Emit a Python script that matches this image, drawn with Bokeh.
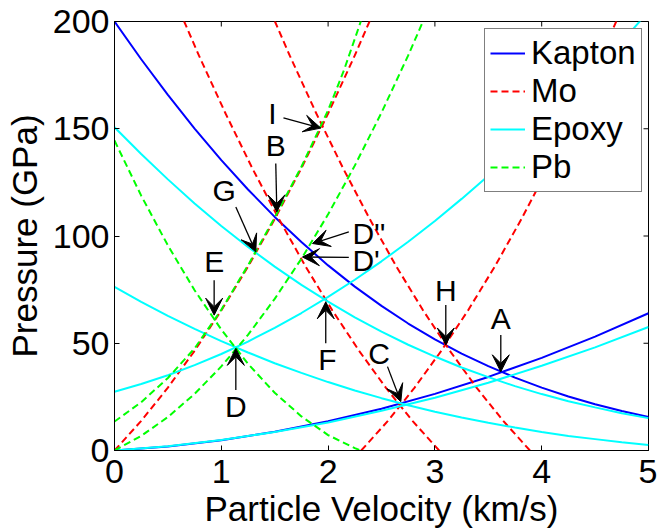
import math
from bokeh.plotting import figure
from bokeh.models import (Range1d, Legend, LegendItem, Arrow,
                          VeeHead, Label, FixedTicker)
from bokeh.embed import file_html
from bokeh.resources import INLINE

# ---------------- data ----------------
u_half = [0, 0.5, 1.0, 1.5, 2.0, 2.5, 3.0, 3.5, 4.0, 4.5, 5.0]
u_quarter = [0, 0.25, 0.5, 0.75, 1.0, 1.25, 1.5, 1.75, 2.0, 2.25, 2.5,
             2.75, 3.0, 3.25, 3.5, 3.75, 4.0, 4.25, 4.5, 4.75, 5.0]

# Kapton
kapton_hug_p = [0, 1.9, 4.8, 8.7, 13.6, 19.5, 26.4, 34.3, 43.2, 53.1, 64.0]
kapton_drive_p = [200, 182.4, 165.8, 150.1, 135.4, 121.7, 108.9, 97.2, 86.3,
                  76.4, 67.4, 59.2, 51.8, 45.2, 39.3, 34.0, 29.3, 25.2, 21.6,
                  18.4, 15.6]

# Mo (four curves share the same pressure samples)
mo_p = [0, 13.8, 29.3, 46.5, 65.3, 85.7, 107.9, 131.6, 157.1, 184.2, 212.9]
mo_hug_u = [0, 0.25, 0.5, 0.75, 1.0, 1.25, 1.5, 1.75, 2.0, 2.25, 2.5]
mo_rel1_u = [3.04, 2.79, 2.54, 2.29, 2.04, 1.79, 1.54, 1.29, 1.04, 0.79, 0.54]
mo_rel2_u = [3.89, 3.64, 3.39, 3.14, 2.89, 2.64, 2.39, 2.14, 1.89, 1.64, 1.39]
mo_shock2_u = [2.31, 2.56, 2.81, 3.06, 3.31, 3.56, 3.81, 4.06, 4.31, 4.56, 4.81]

# Epoxy
epoxy_hug_p = [0, 2.0, 4.9, 8.6, 13.1, 18.5, 24.6, 31.6, 39.5, 48.1, 57.6]
epoxy_a_p = [150.7, 138.2, 126.4, 115.2, 104.7, 94.9, 85.7, 77.2, 69.4, 62.1,
             55.4, 49.3, 43.8, 38.7, 34.2, 30.0, 26.3, 23.0, 20.1, 17.4, 15.1]
epoxy_b_p = [76.3, 69.3, 62.8, 56.7, 51.0, 45.7, 40.7, 36.2, 31.9, 28.0, 24.4,
             21.1, 18.1, 15.4, 12.9, 10.7, 8.6, 6.8, 5.3, 3.8, 2.6]
epoxy_c_p = [27.4, 31.0, 35.1, 39.8, 45.0, 50.8, 57.2, 64.1, 71.6, 79.6, 88.2,
             97.3, 107.0, 117.3, 128.1, 139.5, 151.4, 163.9, 176.9, 190.5, 204.7]

# Pb
pb_hug_u = [0, 0.25, 0.5, 0.75, 1.0, 1.25, 1.5, 1.75, 2.0, 2.25, 2.5, 2.75, 3.0]
pb_hug_p = [0, 6.8, 15.6, 26.4, 39.2, 53.9, 70.7, 89.4, 110.1, 132.8, 157.5,
            184.2, 212.8]
pb_rel_u = [0, 0.25, 0.5, 0.75, 1.0, 1.25, 1.5, 1.75, 2.0, 2.25, 2.306]
pb_rel_p = [144.5, 118.8, 95.6, 74.7, 56.4, 40.4, 26.9, 15.9, 7.2, 1.1, 0]
pb_shock2_u = [0, 0.25, 0.5, 0.75, 1.0, 1.25, 1.5, 1.75, 2.0, 2.15, 2.306, 2.4]
pb_shock2_p = [13.5, 22.5, 33.8, 47.6, 65.6, 86.3, 108.6, 132.3, 158.6, 177.5,
               200.0, 214.0]

# annotations: label, text position, arrow start, arrow tip (data units)
ann_labels = ["A", "B", "C", "D", "D'", "D''", "E", "F", "G", "H", "I"]
ann_text_x = [3.617, 1.51, 2.478, 1.136, 2.228, 2.228, 0.933, 1.994, 1.026, 3.102, 1.479]
ann_text_y = [61.6, 142.2, 45.3, 20.5, 88.7, 101.1, 87.9, 42.2, 121.3, 74.7, 156.9]
ann_x0 = [3.617, 1.51, 2.556, 1.136, 2.194, 2.194, 0.933, 1.978, 1.136, 3.102, 1.582]
ann_y0 = [53.8, 133.8, 39.1, 28.2, 90.0, 101.9, 79.4, 50.0, 113.5, 67.8, 155.1]
ann_x1 = [3.617, 1.52, 2.681, 1.136, 1.760, 1.854, 0.933, 1.978, 1.323, 3.102, 1.932]
ann_y1 = [36.7, 111.2, 22.8, 47.6, 90.2, 96.5, 63.1, 69.3, 92.6, 49.2, 150.3]

x_ticks = [0, 1, 2, 3, 4, 5]
y_ticks = [0, 50, 100, 150, 200]

# ---------------- figure ----------------
FONT = "Liberation Sans"
BLUE, RED, CYAN, GREEN = "#0000FF", "#FF0000", "#00FFFF", "#00FF00"
DASH = "7 4"
LW = 2

p = figure(width=657, height=530, output_backend="svg", toolbar_location=None,
           x_range=Range1d(0, 5), y_range=Range1d(0, 200),
           min_border_left=114, min_border_right=9, min_border_top=21,
           min_border_bottom=79)
p.background_fill_color = "white"
p.border_fill_color = "white"
p.outline_line_color = "black"
p.outline_line_width = 1
p.xgrid.visible = False
p.ygrid.visible = False

# Kapton
r_kap = p.line(u_half, kapton_hug_p, line_color=BLUE, line_width=LW)
p.line(u_quarter, kapton_drive_p, line_color=BLUE, line_width=LW)
# Mo
r_mo = p.line(mo_hug_u, mo_p, line_color=RED, line_width=LW, line_dash=DASH)
p.line(mo_rel1_u, mo_p, line_color=RED, line_width=LW, line_dash=DASH)
p.line(mo_rel2_u, mo_p, line_color=RED, line_width=LW, line_dash=DASH)
p.line(mo_shock2_u, mo_p, line_color=RED, line_width=LW, line_dash=DASH)
# Epoxy
r_epo = p.line(u_half, epoxy_hug_p, line_color=CYAN, line_width=LW)
p.line(u_quarter, epoxy_a_p, line_color=CYAN, line_width=LW)
p.line(u_quarter, epoxy_b_p, line_color=CYAN, line_width=LW)
p.line(u_quarter, epoxy_c_p, line_color=CYAN, line_width=LW)
# Pb
r_pb = p.line(pb_hug_u, pb_hug_p, line_color=GREEN, line_width=LW, line_dash=DASH)
p.line(pb_rel_u, pb_rel_p, line_color=GREEN, line_width=LW, line_dash=DASH)
p.line(pb_shock2_u, pb_shock2_p, line_color=GREEN, line_width=LW, line_dash=DASH)

# inward tick marks on the top and right edges of the box
p.scatter(x_ticks, [p.y_range.end] * len(x_ticks), marker="dash", size=10,
          angle=math.pi / 2, line_color="black", line_width=1)
p.scatter([p.x_range.end] * len(y_ticks), y_ticks, marker="dash", size=10,
          line_color="black", line_width=1)

# annotations
for lab, tx, ty, x0, y0, x1, y1 in zip(ann_labels, ann_text_x, ann_text_y,
                                       ann_x0, ann_y0, ann_x1, ann_y1):
    p.add_layout(Arrow(end=VeeHead(size=17, fill_color="black", line_color="black",
                                   line_width=1),
                       x_start=x0, y_start=y0, x_end=x1, y_end=y1,
                       line_color="black", line_width=1.3))
    align = "left" if lab.startswith("D'") else "center"
    p.add_layout(Label(x=tx, y=ty, text=lab, text_align=align,
                       text_baseline="middle", text_font=FONT,
                       text_font_size="30px", text_color="black"))

# axes
for ax, ticks in ((p.xaxis[0], x_ticks), (p.yaxis[0], y_ticks)):
    ax.ticker = FixedTicker(ticks=ticks)
    ax.major_tick_in = 5
    ax.major_tick_out = 0
    ax.minor_tick_line_color = None
    ax.axis_line_color = "black"
    ax.major_tick_line_color = "black"
    ax.major_label_text_font = FONT
    ax.major_label_text_color = "black"
    ax.major_label_text_font_size = "34px"
    ax.axis_label_text_font = FONT
    ax.axis_label_text_font_size = "35px"
    ax.axis_label_text_font_style = "normal"
    ax.axis_label_text_color = "black"

p.xaxis.axis_label = "Particle Velocity (km/s)"
p.yaxis.axis_label = "Pressure (GPa)"
p.xaxis.major_label_standoff = 9
p.yaxis.major_label_standoff = 5
p.xaxis.axis_label_standoff = 3
p.yaxis.axis_label_standoff = 6

legend = Legend(items=[LegendItem(label="Kapton", renderers=[r_kap]),
                       LegendItem(label="Mo", renderers=[r_mo]),
                       LegendItem(label="Epoxy", renderers=[r_epo]),
                       LegendItem(label="Pb", renderers=[r_pb])],
                location=(370, 258))
legend.label_text_font = FONT
legend.label_text_font_size = "33px"
legend.label_text_color = "black"
legend.glyph_width = 35
legend.glyph_height = 30
legend.label_height = 30
legend.label_standoff = 6
legend.padding = 5
legend.spacing = 0
legend.margin = 0
legend.border_line_color = "black"
legend.border_line_width = 1
legend.background_fill_color = "white"
legend.background_fill_alpha = 1.0
p.add_layout(legend)

open("out.html", "w").write(file_html(p, INLINE))
